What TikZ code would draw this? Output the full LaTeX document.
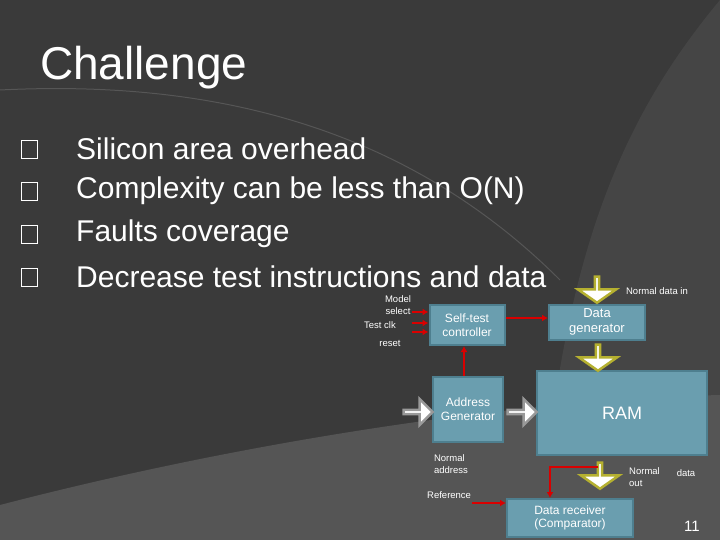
\documentclass[tikz,border=0pt]{standalone}
\usepackage{fontspec}
\setmainfont{Liberation Sans}
\usetikzlibrary{shapes.arrows,arrows.meta}
\definecolor{bg}{HTML}{3A3A3A}
\definecolor{bgl}{HTML}{555555}
\definecolor{bgm}{HTML}{454545}
\definecolor{boxc}{HTML}{6A9EAF}
\definecolor{boxb}{HTML}{4E7F8F}
\definecolor{yel}{HTML}{B5B030}
\tikzset{
 blk/.style={draw=boxb,line width=2pt,fill=boxc,text=white,font=\fontsize{12}{13.5}\selectfont,align=center},
 lbl/.style={text=white,font=\fontsize{9.5}{12}\selectfont,align=center,inner sep=1pt},
 red/.style={draw=red!85!black,line width=2.5pt,-{Latex[length=6pt,width=7pt]}},
 yarr/.style={single arrow,draw=yel,line width=2.5pt,fill=white,minimum height=26pt,minimum width=38pt,single arrow head extend=10pt,single arrow tip angle=110,inner sep=0pt,shape border rotate=270},
 garr/.style={single arrow,draw=gray!80,line width=2.5pt,fill=white,minimum height=29pt,minimum width=26pt,single arrow head extend=6pt,inner sep=0pt},
 bul/.style={text=white,font=\fontsize{30}{32}\selectfont,anchor=west,inner sep=0pt}
}
\begin{document}
\begin{tikzpicture}[x=1pt,y=-1pt]
\useasboundingbox (0,0) rectangle (720,540);
\fill[bg] (0,0) rectangle (720,540);
\fill[bgm] (720,0) .. controls (620,120) and (560,260) .. (540,540) -- (720,540) -- cycle;
\fill[bgl] (0,505) .. controls (250,440) and (520,400) .. (720,395) -- (720,540) -- (0,540) -- cycle;
\draw[gray!40!bg,line width=1pt] (0,90) .. controls (200,80) and (400,120) .. (560,280);
\node[text=white,font=\fontsize{46}{50}\selectfont,anchor=west,inner sep=0pt] (title) at (40,68) {Challenge};
\foreach \y/\t [count=\i] in {149/Silicon area overhead,191/Complexity can be less than O(N),234/Faults coverage,277/Decrease test instructions and data}{
 \draw[white,line width=0.8pt] (21,{\y-9}) rectangle (37,{\y+9});
 \node[bul] (b\i) at (76,\y) {\t};
}
\node[blk,minimum width=75pt,minimum height=40pt] (st) at (467,325) {Self-test\\controller};
\node[blk,minimum width=96pt,minimum height=35pt,font=\fontsize{13}{14.5}\selectfont] (dg) at (597,322) {Data\\generator};
\node[blk,minimum width=70pt,minimum height=65pt] (ag) at (468,409) {Address\\Generator};
\node[blk,minimum width=170pt,minimum height=84pt,font=\fontsize{18}{20}\selectfont] (ram) at (622,413) {RAM};
\node[blk,minimum width=126pt,minimum height=38pt] (dr) at (570,518) {Data receiver\\(Comparator)};
\node[yarr] (y1) at (597,289) {};
\node[yarr] (y2) at (598,357) {};
\node[yarr] (y3) at (600,475) {};
\node[garr] (g1) at (417,412) {};
\node[garr] (g2) at (521,412) {};
\node[lbl] (ms) at (398,305) {Model\\select};
\node[lbl] (tc) at (380,325) {Test clk};
\node[lbl] (rs) at (390,343) {reset};
\node[lbl] (ndi) at (657,291) {Normal data in};
\node[lbl,align=left] (na) at (451,464) {Normal\\address};
\node[lbl,anchor=west] (ref) at (426,495) {Reference};
\node[lbl,anchor=north west,align=left] (nout) at (628,466) {Normal\\out};
\node[lbl] (dat) at (686,473) {data};
\node[text=white,font=\fontsize{15}{16}\selectfont] (pg) at (692,526) {11};
\coordinate (m1) at (412,312);
\coordinate (m2) at (412,323);
\coordinate (m3) at (412,332);
\draw[red] (m1) -- (st.west|-m1);
\draw[red] (m2) -- (st.west|-m2);
\draw[red] (m3) -- (st.west|-m3);
\draw[red] (st.east|-0,318) -- (dg.west|-0,318);
\draw[red] (ag.north-|464,0) -- (st.south-|464,0);
\coordinate (o1) at (598,467);
\draw[red] (o1) -- (550,467) -- (dr.north-|550,0);
\coordinate (r1) at (472,503);
\draw[red] (r1) -- (dr.west|-r1);
\end{tikzpicture}
\end{document}
